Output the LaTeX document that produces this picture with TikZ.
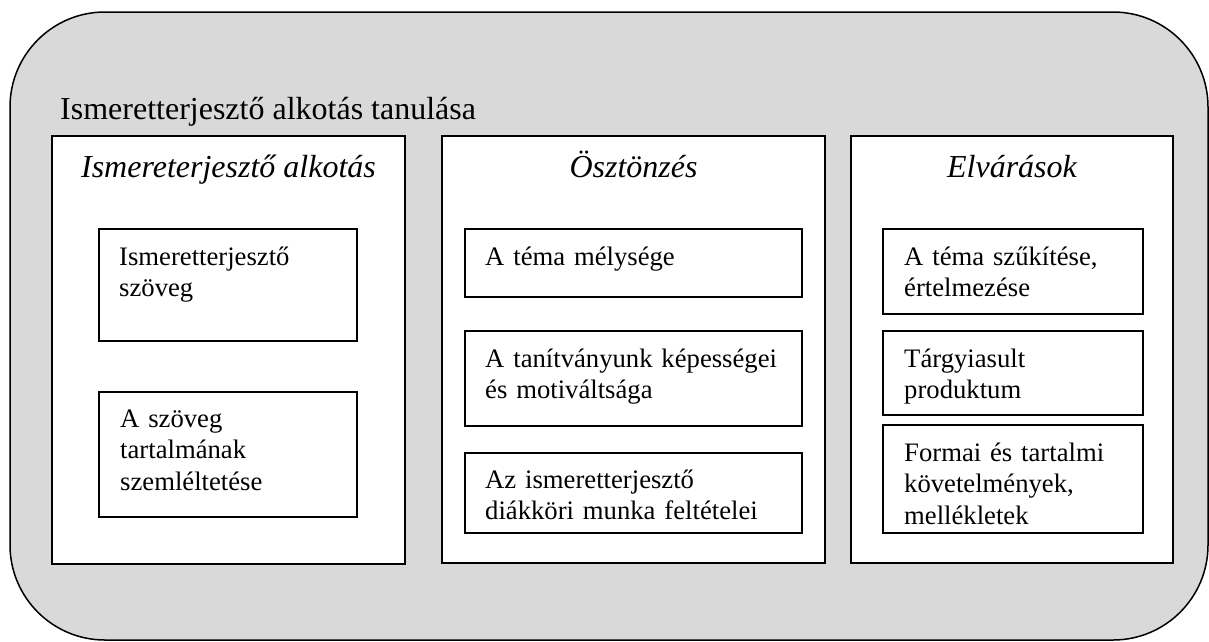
\documentclass[tikz,border=0pt]{standalone}
\usepackage{fontspec}
\setmainfont{Liberation Serif}
\usetikzlibrary{calc}
\definecolor{framegray}{RGB}{217,217,217}
\begin{document}
\begin{tikzpicture}[x=1pt,y=-1pt,
  frame/.style={draw=black, line width=1.5pt, fill=framegray, rounded corners=95pt,
    rectangle, inner sep=0pt, outer sep=0pt, anchor=north west},
  colbox/.style={draw=black, line width=1.5pt, fill=white, rectangle,
    inner sep=0pt, outer sep=0pt, anchor=north west},
  inbox/.style={draw=black, line width=1.5pt, fill=white, rectangle,
    inner sep=0pt, outer sep=0pt, anchor=north west},
  titletext/.style={inner sep=0pt, anchor=base west, font=\fontsize{32}{38}\selectfont},
  headtext/.style={inner sep=0pt, anchor=base, font=\fontsize{32}{38}\selectfont\itshape},
  intext/.style={inner sep=0pt, anchor=base west, align=left, text width=#1,
    font=\fontsize{26.67}{31.5}\selectfont},
  intext/.default=240pt]
\useasboundingbox (0,0) rectangle (1209,641);

% outer frame and its title
\node[frame, minimum width=1198pt, minimum height=628pt] (frame) at (10,12) {};
\node[titletext] (title) at (60,119) {Ismeretterjesztő alkotás tanulása};

% three columns
\node[colbox, minimum width=353pt, minimum height=428pt] (col1) at (52,136) {};
\node[colbox, minimum width=383pt, minimum height=427pt] (col2) at (442,136) {};
\node[colbox, minimum width=322pt, minimum height=427pt] (col3) at (851,136) {};

\node[headtext] (h1) at ($(col1.north)+(0,41)$) {Ismereterjesztő alkotás};
\node[headtext] (h2) at ($(col2.north)+(0,41)$) {Ösztönzés};
\node[headtext] (h3) at ($(col3.north)+(0,41)$) {Elvárások};

% first column
\node[inbox, minimum width=258pt, minimum height=112pt] (c1a) at (99,229) {};
\node[inbox, minimum width=258pt, minimum height=125pt] (c1b) at (99,392) {};
\node[intext] (t1a) at ($(c1a.north west)+(20,36)$) {Ismeretterjesztő\\szöveg};
\node[intext] (t1b) at ($(c1b.north west)+(21,35)$) {A szöveg\\tartalmának\\szemléltetése};

% second column
\node[inbox, minimum width=337pt, minimum height=68pt] (c2a) at (465,229) {};
\node[inbox, minimum width=337pt, minimum height=95pt] (c2b) at (465,331) {};
\node[inbox, minimum width=337pt, minimum height=80pt] (c2c) at (465,453) {};
\node[intext=320pt] (t2a) at ($(c2a.north west)+(20,36)$) {A téma mélysége};
\node[intext=320pt] (t2b) at ($(c2b.north west)+(20,36)$) {A tanítványunk képességei\\és motiváltsága};
\node[intext=320pt] (t2c) at ($(c2c.north west)+(20,35)$) {Az ismeretterjesztő\\diákköri munka feltételei};

% third column
\node[inbox, minimum width=260pt, minimum height=85pt] (c3a) at (883,229) {};
\node[inbox, minimum width=260pt, minimum height=84pt] (c3b) at (883,331) {};
\node[inbox, minimum width=260pt, minimum height=108pt] (c3c) at (883,425) {};
\node[intext] (t3a) at ($(c3a.north west)+(21,36)$) {A téma szűkítése,\\értelmezése};
\node[intext] (t3b) at ($(c3b.north west)+(21,36)$) {Tárgyiasult\\produktum};
\node[intext] (t3c) at ($(c3c.north west)+(21,36)$) {Formai és tartalmi\\követelmények,\\mellékletek};
\end{tikzpicture}
\end{document}
